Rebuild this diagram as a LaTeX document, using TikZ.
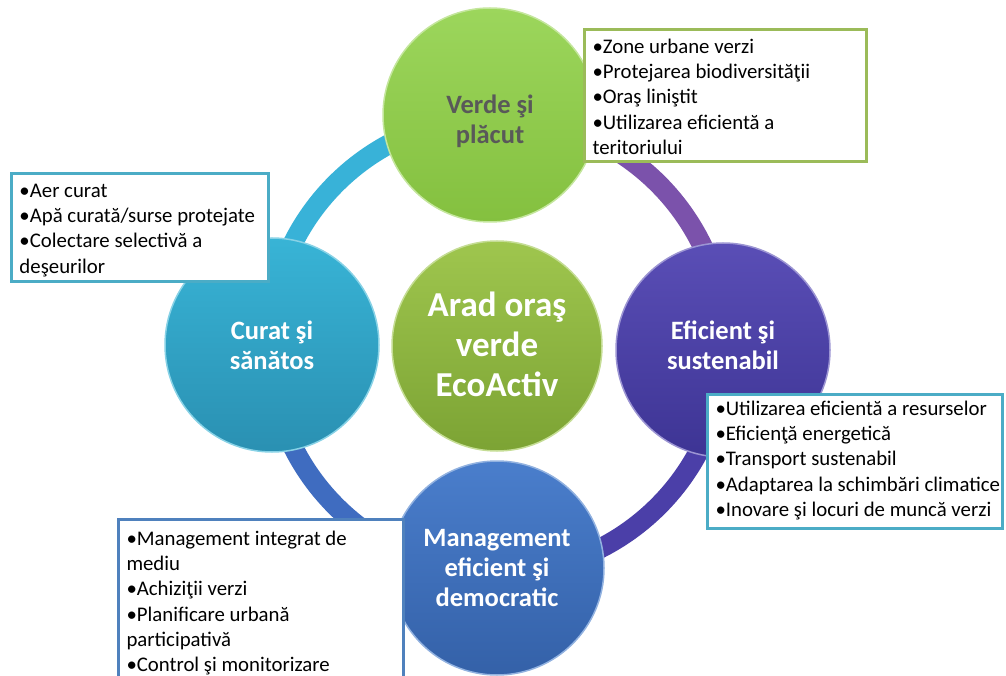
\documentclass[tikz,border=0pt]{standalone}
\usepackage{fontspec}
\setmainfont{Carlito}
\usetikzlibrary{calc}
\definecolor{ringA}{HTML}{38B2D8}
\definecolor{ringB}{HTML}{7B52AB}
\definecolor{ringC}{HTML}{4B3FA8}
\definecolor{ringD}{HTML}{3F6CC0}
\definecolor{grnT}{HTML}{9CD65C}
\definecolor{grnB}{HTML}{84C03F}
\definecolor{cyaT}{HTML}{38B4D6}
\definecolor{cyaB}{HTML}{2A90B2}
\definecolor{cenT}{HTML}{9FC64E}
\definecolor{cenB}{HTML}{7CA334}
\definecolor{purT}{HTML}{5A4EB6}
\definecolor{purB}{HTML}{3D3494}
\definecolor{bluT}{HTML}{4A7ECC}
\definecolor{bluB}{HTML}{3461A8}
\definecolor{txtG}{HTML}{595959}
\definecolor{bdG}{HTML}{9BBB59}
\definecolor{bdC}{HTML}{4BACC6}
\definecolor{bdB}{HTML}{4F81BD}
% #1 width, #2 height, #3 top gap, #4 text
\newcommand{\bxt}[4]{\begin{minipage}[t][#2][t]{#1}\vspace*{#3}\raggedright\leftskip=8pt\fontsize{20.8}{25.3}\selectfont\strut #4\end{minipage}}
\tikzset{
  ringseg/.style={line width=20pt},
  bigcirc/.style={circle, minimum size=214pt, inner sep=0pt, line width=1.5pt},
  circtext/.style={align=center, inner sep=0pt, font=\bfseries\fontsize{26.5}{30}\selectfont, text=white},
  infobox/.style={anchor=north west, fill=white, line width=3pt, inner sep=0pt}
}
\begin{document}
\begin{tikzpicture}[x=1pt,y=-1pt]
\useasboundingbox (0,0) rectangle (1006,676);
\coordinate (c) at (497,345);
% ring
\draw[ringseg, ringA] (c) ++(180:228) arc[start angle=180, end angle=270, radius=228];
\draw[ringseg, ringB] (c) ++(270:228) arc[start angle=270, end angle=360, radius=228];
\draw[ringseg, ringC] (c) ++(0:228) arc[start angle=0, end angle=90, radius=228];
\draw[ringseg, ringD] (c) ++(90:228) arc[start angle=90, end angle=180, radius=228];
% circles
\node[bigcirc, top color=grnT, bottom color=grnB, draw=grnT!60!white] (top) at (490,115) {};
\node[bigcirc, top color=cyaT, bottom color=cyaB, draw=cyaT!60!white] (left) at (272,345) {};
\node[bigcirc, top color=purT, bottom color=purB, draw=purT!60!white] (right) at (723,350) {};
\node[bigcirc, top color=bluT, bottom color=bluB, draw=bluT!60!white] (bottom) at (497,568) {};
\node[bigcirc, minimum size=210pt, top color=cenT, bottom color=cenB, draw=cenT!60!white] (center) at (497,346) {};
% circle texts
\node[circtext, text=txtG] (topT) at (490,121) {Verde şi\\plăcut};
\node[circtext] (leftT) at (272,345) {Curat şi\\sănătos};
\node[circtext] (rightT) at (723,345) {Eficient şi\\sustenabil};
\node[circtext] (bottomT) at (497,568) {Management\\eficient şi\\democratic};
\node[circtext, font=\bfseries\fontsize{35}{40}\selectfont] (centerT) at (497,344) {Arad oraş\\verde\\EcoActiv};
% boxes
\node[infobox, draw=bdG] (boxTR) at (583,28) {\bxt{282pt}{132pt}{6pt}{•Zone urbane verzi\\•Protejarea biodiversităţii\\•Oraş liniştit\\•Utilizarea eficientă a\\teritoriului}};
\node[infobox, draw=bdC] (boxL) at (10,172) {\bxt{257pt}{108pt}{6pt}{•Aer curat\\•Apă curată/surse protejate\\•Colectare selectivă a\\deşeurilor}};
\node[infobox, draw=bdC] (boxR) at (706,393) {\bxt{295pt}{134pt}{3pt}{•Utilizarea eficientă a resurselor\\•Eficienţă energetică\\•Transport sustenabil\\•Adaptarea la schimbări climatice\\•Inovare şi locuri de muncă verzi}};
\node[infobox, draw=bdB] (boxBL) at (117,518) {\bxt{285pt}{170pt}{8pt}{•Management integrat de\\mediu\\•Achiziţii verzi\\•Planificare urbană\\participativă\\•Control şi monitorizare}};
\end{tikzpicture}
\end{document}
